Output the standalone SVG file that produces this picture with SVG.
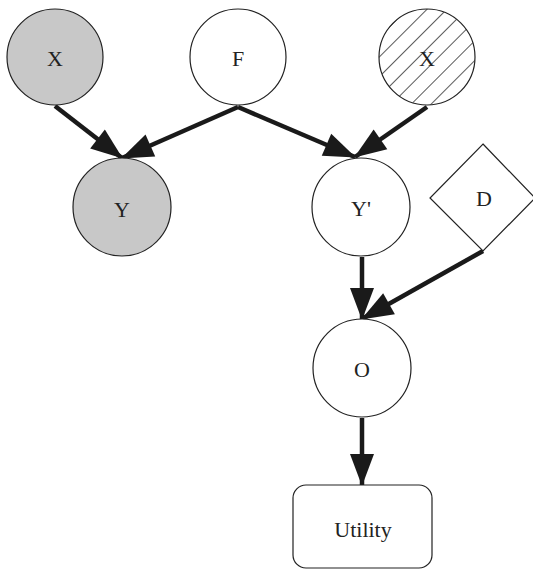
<svg xmlns="http://www.w3.org/2000/svg" width="533" height="569" viewBox="0 0 533 569">
<style>
.n{stroke:#222;stroke-width:1.2}
.w{fill:#fff}
.g{fill:#c8c8c8}
.t{font-family:"Liberation Serif","Times New Roman",serif;font-size:22px;fill:#222;text-anchor:middle;dominant-baseline:central}
.e{stroke:#1a1a1a;stroke-width:4.5;fill:none;marker-end:url(#ah)}
</style>
<defs>
<marker id="ah" markerUnits="userSpaceOnUse" markerWidth="34" markerHeight="26" refX="31" refY="12" orient="auto" overflow="visible">
<path d="M0,0 L32,12 L0,24 Z" fill="#1a1a1a"/>
</marker>
<pattern id="hatch" patternUnits="userSpaceOnUse" width="14" height="14" patternTransform="rotate(45)">
<rect width="14" height="14" fill="#fff"/>
<line x1="0" y1="0" x2="0" y2="14" stroke="#222" stroke-width="1.5"/>
</pattern>
</defs>
<g id="connectors">
<line class="e" x1="55" y1="106" x2="122" y2="158"/>
<line class="e" x1="238" y1="107" x2="122" y2="158"/>
<line class="e" x1="238" y1="107" x2="355" y2="157"/>
<line class="e" x1="427" y1="107" x2="355" y2="157"/>
<line class="e" x1="362" y1="257" x2="362" y2="319"/>
<line class="e" x1="483" y1="251" x2="362" y2="319"/>
<line class="e" x1="362" y1="418" x2="362" y2="485"/>
</g>
<g id="nodeX1"><circle class="n g" cx="55" cy="57" r="48"/><text class="t" x="55" y="58">X</text></g>
<g id="nodeF"><circle class="n w" cx="238" cy="57" r="48"/><text class="t" x="238" y="58">F</text></g>
<g id="nodeX2"><circle class="n" fill="url(#hatch)" cx="427" cy="57" r="48"/><text class="t" x="427" y="58">X</text></g>
<g id="nodeY"><circle class="n g" cx="122" cy="207" r="49"/><text class="t" x="122" y="209">Y</text></g>
<g id="nodeYp"><circle class="n w" cx="361" cy="207" r="49"/><text class="t" x="361" y="208">Y'</text></g>
<g id="nodeD"><polygon class="n w" points="483,144 535,198 483,251 430,198"/><text class="t" x="484" y="198">D</text></g>
<g id="nodeO"><circle class="n w" cx="362" cy="368" r="49"/><text class="t" x="362" y="369">O</text></g>
<g id="nodeUtility"><rect class="n w" x="293" y="485" width="139" height="83" rx="13"/><text class="t" x="363" y="529">Utility</text></g>
</svg>
